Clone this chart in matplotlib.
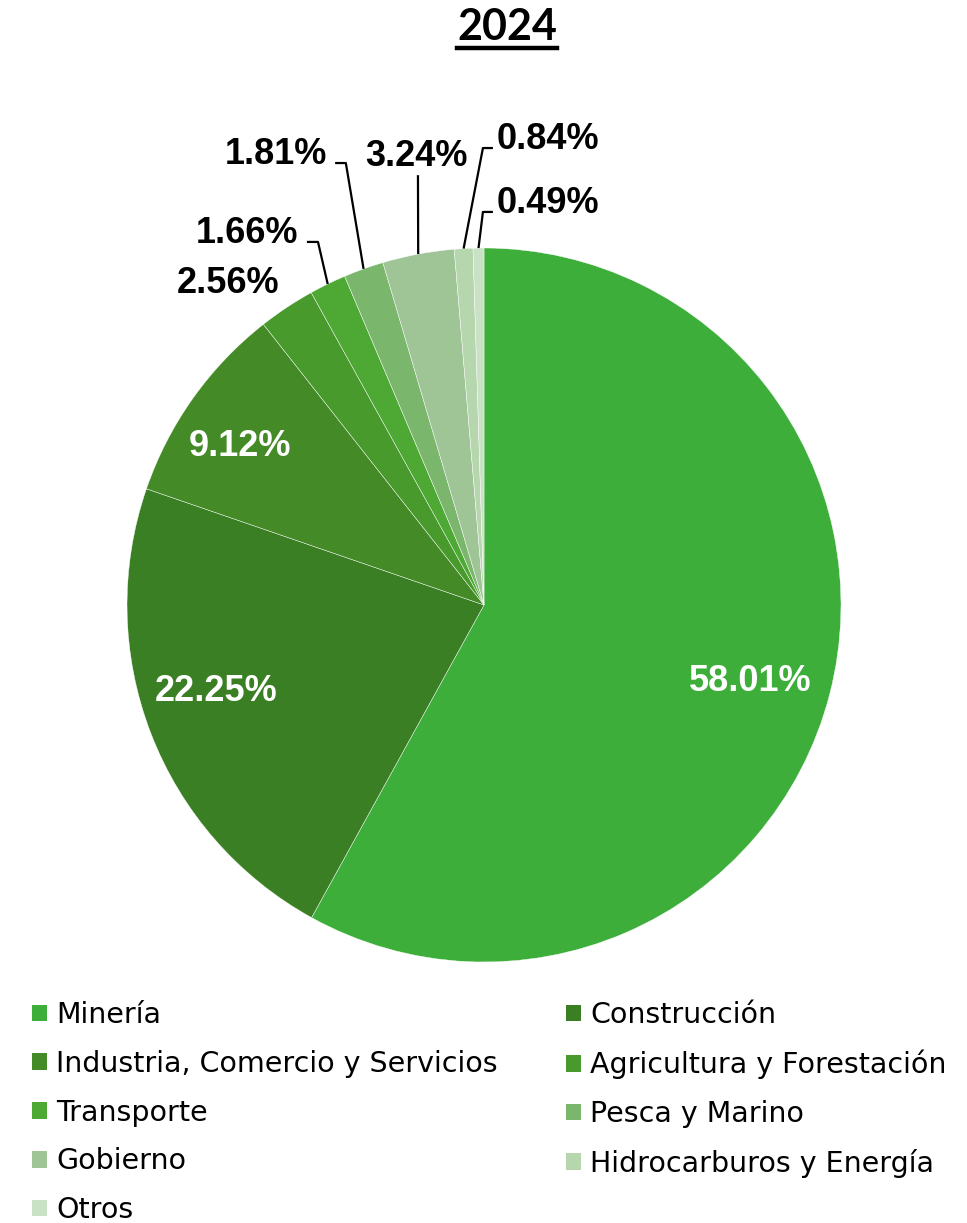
import matplotlib.pyplot as plt
from matplotlib.lines import Line2D
import numpy as np

# data
sectors = ['Minería', 'Construcción', 'Industria, Comercio y Servicios',
           'Agricultura y Forestación', 'Transporte', 'Pesca y Marino',
           'Gobierno', 'Hidrocarburos y Energía', 'Otros']
shares = [58.01, 22.25, 9.12, 2.56, 1.66, 1.81, 3.24, 0.84, 0.49]
colors = ['#3dae3a', '#3b7f24', '#448b27', '#479a2b', '#4da834',
          '#7bb66d', '#9fc597', '#b6d6ae', '#c9e1c4']
year = '2024'

W, H = 967, 1223
fig = plt.figure(figsize=(W / 100, H / 100), dpi=100)

# pie axes: centre (484, 605), radius 357 px
cx, cy, R = 484, 605, 357
ax = fig.add_axes([(cx - R) / W, (H - cy - R) / H, 2 * R / W, 2 * R / H])

wedges, _ = ax.pie(shares, colors=colors, startangle=90, counterclock=False,
                   radius=1, wedgeprops=dict(edgecolor='white', linewidth=0.3))
ax.set_xlim(-1, 1)
ax.set_ylim(-1, 1)
ax.set_aspect('equal')
ax.axis('off')

lab_font = dict(family='Liberation Sans', fontweight='bold', fontsize=26)

# mid angles of the wedges
total = sum(shares)
cum = np.cumsum(shares) / total * 360
mid = np.deg2rad(90 - (cum - np.array(shares) / total * 360 / 2))

# big slices: white labels inside (positions in pie units)
inside = {0: (0.745, -0.215), 1: (-0.751, -0.243), 2: (-0.683, 0.443)}
for i, (x, y) in inside.items():
    ax.text(x, y, f'{shares[i]:.2f}%', color='white',
            ha='center', va='center', **lab_font)

# small slices: outside labels with leader lines
# (text position, elbow, line end) in pie units
outside = {
    3: ((-0.717, 0.900), None, None),
    4: ((-0.664, 1.040), (-0.465, 1.017), (-0.496, 1.017)),
    5: ((-0.583, 1.261), (-0.387, 1.238), (-0.417, 1.238)),
    6: ((-0.188, 1.256), (-0.185, 1.204), None),
    7: ((0.179, 1.303), (-0.003, 1.280), (0.025, 1.280)),
    8: ((0.179, 1.124), (-0.003, 1.101), (0.025, 1.101)),
}
for i, (tpos, elbow, end) in outside.items():
    ax.text(tpos[0], tpos[1], f'{shares[i]:.2f}%', color='black',
            ha='center', va='center', clip_on=False, **lab_font)
    if elbow is not None:
        xs = [np.cos(mid[i]), elbow[0]]
        ys = [np.sin(mid[i]), elbow[1]]
        if end is not None:
            xs.append(end[0])
            ys.append(end[1])
        ax.plot(xs, ys, color='black', lw=1.6, clip_on=False,
                solid_capstyle='butt')

# title, underlined
t = fig.text(507 / W, 1 - 27 / H, year, ha='center', va='center',
             family='Lato', fontweight='bold', fontsize=31)
fig.canvas.draw()
bb = t.get_window_extent()
fig.add_artist(Line2D([bb.x0 / W, bb.x1 / W], [(H - 48) / H, (H - 48) / H],
                      color='black', lw=3.2))

# legend: two columns, filled row by row
leg_kw = dict(loc='upper left', frameon=False,
              prop=dict(family='DejaVu Sans', size=20.5),
              handlelength=0.53, handleheight=0.53, handletextpad=0.33,
              labelspacing=0.73, borderaxespad=0, borderpad=0)
for col, x0 in ((0, 32), (1, 566)):
    idx = list(range(col, len(sectors), 2))
    leg = fig.legend([wedges[i] for i in idx], [sectors[i] for i in idx],
                     bbox_to_anchor=(x0 / W, 1 - 1001 / H), **leg_kw)
    for h in leg.legend_handles:
        h.set_edgecolor('none')

fig.savefig('out.png', dpi=100)
